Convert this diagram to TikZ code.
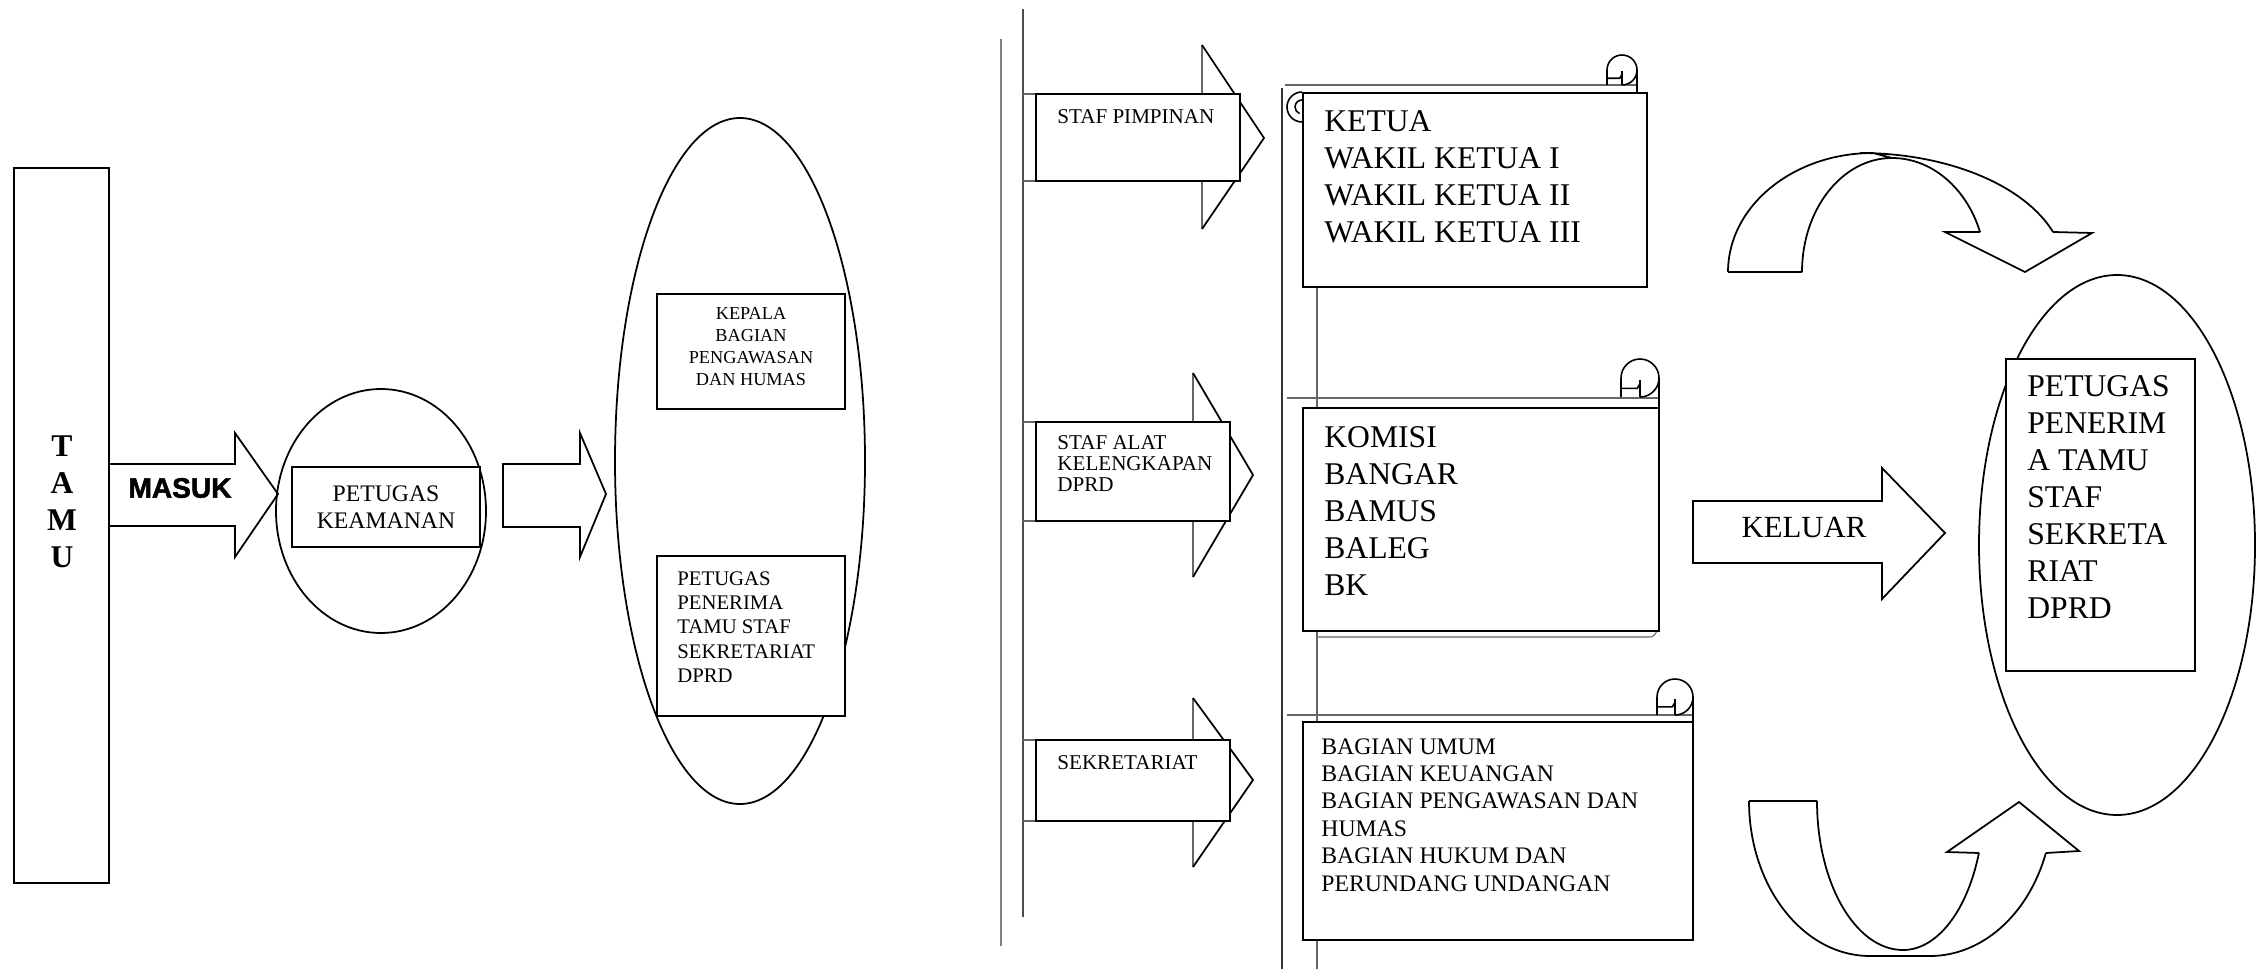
\documentclass[tikz,border=0pt]{standalone}
\usepackage{fontspec}
\setmainfont{Liberation Serif}
\newfontfamily\masukfont{Liberation Sans}[BoldFeatures={FakeBold=1.8}]
\usetikzlibrary{shapes.geometric,calc}
\newcommand\pxu{0.02cm}
\newcommand\scrollcurl[3]{%
  \draw[curlline] ({#1-#3},{#2-#3}) -- ({#1-#3},{#2}) arc[start angle=180,end angle=-90,radius=#3];
  \draw[curlline] ({#1-#3},{#2-0.55*#3}) -- ({#1-0.15*#3},{#2-0.55*#3}) -- ({#1},{#2-0.3*#3});
  \draw[curlline] ({#1},{#2-0.1*#3}) -- ({#1},{#2-#3});
}
\begin{document}
\begin{tikzpicture}[x=0.02cm,y=0.02cm,
  rbox/.style={draw,line width=1.1pt,fill=white,rectangle,inner sep=0pt},
  oval/.style={draw,line width=1pt,ellipse,inner sep=0pt},
  blockarrow/.style={draw,line width=1pt,line join=miter},
  thinline/.style={draw=black!60,line width=0.6pt},
  headline/.style={draw,line width=1pt,line join=miter},
  curlline/.style={draw,line width=0.9pt},
  txt/.style={inner sep=0pt,align=left,anchor=north west},
]
\fill[white] (0,0) rectangle (2258,-969);
\useasboundingbox (0,0) rectangle (2258,-969);

% ---------------- left part ----------------
\node[rbox, minimum width=95*\pxu, minimum height=715*\pxu] (tamu) at (61.5,-525.5) {};
\node[inner sep=0pt, align=center, font=\fontsize{18}{21}\selectfont\bfseries] (tamutxt) at (62,-502) {T\\A\\M\\U};

\draw[blockarrow] (109,-464) -- (235,-464) -- (235,-433) -- (278,-494) -- (235,-557) -- (235,-526) -- (109,-526);
\node[inner sep=0pt, font=\masukfont\bfseries\fontsize{16}{19}\selectfont] (masuk) at (180,-488) {MASUK};

\node[oval, minimum width=210*\pxu, minimum height=244*\pxu] (ov1) at (381,-511) {};
\node[rbox, minimum width=188*\pxu, minimum height=80*\pxu] (keam) at (386,-507) {};
\node[inner sep=0pt, align=center, font=\fontsize{13.5}{15.4}\selectfont] (keamtxt) at (keam.center) {PETUGAS\\KEAMANAN};

\draw[blockarrow] (503,-464) -- (580,-464) -- (580,-433) -- (606,-494) -- (580,-557) -- (580,-527) -- (503,-527) -- cycle;

\node[oval, minimum width=250*\pxu, minimum height=686*\pxu] (ov2) at (740,-461) {};
\node[rbox, minimum width=188*\pxu, minimum height=115*\pxu] (kepala) at (751,-351.5) {};
\node[inner sep=0pt, align=center, anchor=north, font=\fontsize{10.4}{12.5}\selectfont] (kepalatxt) at ($(kepala.north)+(0,-14)$) {KEPALA\\BAGIAN\\PENGAWASAN\\DAN HUMAS};
\node[rbox, minimum width=188*\pxu, minimum height=160*\pxu] (penerima) at (751,-636) {};
\node[txt, font=\fontsize{11.8}{13.9}\selectfont] (penerimatxt) at ($(penerima.north west)+(21,-16)$) {PETUGAS\\PENERIMA\\TAMU STAF\\SEKRETARIAT\\DPRD};

% ---------------- middle vertical lines ----------------
\draw[draw=black!50, line width=0.8pt] (1001,-39) -- (1001,-946);
\draw[draw=black!70, line width=0.8pt] (1023,-9) -- (1023,-917);

% staff arrows
\draw[thinline] (1023,-94) -- (1202,-94) -- (1202,-45);
\draw[thinline] (1023,-181) -- (1202,-181) -- (1202,-229);
\draw[headline] (1202,-45) -- (1264,-138) -- (1202,-229);
\draw[thinline] (1023,-422) -- (1193,-422) -- (1193,-373);
\draw[thinline] (1023,-521) -- (1193,-521) -- (1193,-577);
\draw[headline] (1193,-373) -- (1253,-475) -- (1193,-577);
\draw[thinline] (1023,-740) -- (1193,-740) -- (1193,-698);
\draw[thinline] (1023,-821) -- (1193,-821) -- (1193,-867);
\draw[headline] (1193,-698) -- (1253,-780) -- (1193,-867);

\node[rbox, minimum width=204*\pxu, minimum height=87*\pxu] (staf1) at (1138,-137.5) {};
\node[txt, font=\fontsize{12}{12}\selectfont] (staf1txt) at ($(staf1.north west)+(22,-16)$) {STAF PIMPINAN};
\node[rbox, minimum width=194*\pxu, minimum height=99*\pxu] (staf2) at (1133,-471.5) {};
\node[txt, font=\fontsize{12}{12}\selectfont] (staf2txt) at ($(staf2.north west)+(22,-14)$) {STAF ALAT\\KELENGKAPAN\\DPRD};
\node[rbox, minimum width=194*\pxu, minimum height=81*\pxu] (staf3) at (1133,-780.5) {};
\node[txt, font=\fontsize{12}{12}\selectfont] (staf3txt) at ($(staf3.north west)+(22,-16)$) {SEKRETARIAT};

% ---------------- scrolls ----------------
\draw[draw=black!80, line width=0.7pt] (1282,-88) -- (1282,-969);
\draw[thinline] (1317,-93) -- (1317,-969);
% scroll 1
\draw[thinline] (1285,-85) -- (1637,-85);
\scrollcurl{1622}{-70}{15}
\draw[curlline] (1637,-70) -- (1637,-93);
\draw[curlline] (1302,-92) arc[start angle=90,end angle=270,radius=15];
\draw[curlline] (1302,-100) arc[start angle=90,end angle=250,radius=7];
% scroll 2
\draw[thinline] (1287,-398) -- (1659,-398);
\scrollcurl{1640}{-378}{19}
\draw[curlline] (1659,-378) -- (1659,-408);
\draw[thinline] (1317,-637) -- (1650,-637) to[out=0,in=-120] (1657,-631);
% scroll 3
\draw[thinline] (1287,-715) -- (1693,-715);
\scrollcurl{1675}{-697}{18}
\draw[curlline] (1693,-697) -- (1693,-722);

\node[rbox, minimum width=344*\pxu, minimum height=194*\pxu] (ketua) at (1475,-190) {};
\node[txt, font=\fontsize{18}{21}\selectfont] (ketuatxt) at ($(ketua.north west)+(22,-18.5)$) {KETUA\\WAKIL KETUA I\\WAKIL KETUA II\\WAKIL KETUA III};
\node[rbox, minimum width=356*\pxu, minimum height=223*\pxu] (komisi) at (1481,-519.5) {};
\node[txt, font=\fontsize{18}{21}\selectfont] (komisitxt) at ($(komisi.north west)+(22,-19.5)$) {KOMISI\\BANGAR\\BAMUS\\BALEG\\BK};
\node[rbox, minimum width=390*\pxu, minimum height=218*\pxu] (bagian) at (1498,-831) {};
\node[txt, font=\fontsize{13.5}{15.6}\selectfont] (bagiantxt) at ($(bagian.north west)+(19,-17)$) {BAGIAN UMUM\\BAGIAN KEUANGAN\\BAGIAN PENGAWASAN DAN\\HUMAS\\BAGIAN HUKUM DAN\\PERUNDANG UNDANGAN};

% ---------------- right part ----------------
\draw[blockarrow] (1693,-501) -- (1882,-501) -- (1882,-468) -- (1945,-533) -- (1882,-599) -- (1882,-563) -- (1693,-563) -- cycle;
\node[inner sep=0pt, font=\fontsize{17.5}{20}\selectfont] (keluar) at (1804,-527) {KELUAR};

% top curved arrow
\draw[blockarrow]
  (1728,-272) -- (1802,-272)
  (1728,-272) arc[start angle=180,end angle=90,x radius=145,y radius=119] -- (1892,-158)
  (1802,-272) arc[start angle=180,end angle=90,x radius=90,y radius=114]
  (1892,-158) arc[start angle=90,end angle=20.5,x radius=94,y radius=114]
  (1860,-153) arc[start angle=90,end angle=19.6,x radius=205,y radius=119]
  (1980,-232) -- (1945,-232) -- (2025,-272) -- (2092,-233) -- (2053,-232);
% bottom curved arrow
\draw[blockarrow]
  (1749,-801) -- (1817,-801)
  (1749,-801) arc[start angle=180,end angle=270,x radius=121,y radius=155]
  -- (1930,-956) arc[start angle=270,end angle=340.4,x radius=123,y radius=155]
  (1817,-801) arc[start angle=180,end angle=270,x radius=86,y radius=149]
  arc[start angle=270,end angle=339.6,x radius=81,y radius=149]
  (1979,-853) -- (1947,-852) -- (2019,-802) -- (2079,-851) -- (2046,-853);

\node[oval, minimum width=276*\pxu, minimum height=540*\pxu] (ov3) at (2117,-545) {};
\node[rbox, minimum width=189*\pxu, minimum height=312*\pxu] (petugas) at (2100.5,-515) {};
\node[txt, font=\fontsize{18}{21}\selectfont] (petugastxt) at ($(petugas.north west)+(22,-17.5)$) {PETUGAS\\PENERIM\\A TAMU\\STAF\\SEKRETA\\RIAT\\DPRD};
\end{tikzpicture}
\end{document}
